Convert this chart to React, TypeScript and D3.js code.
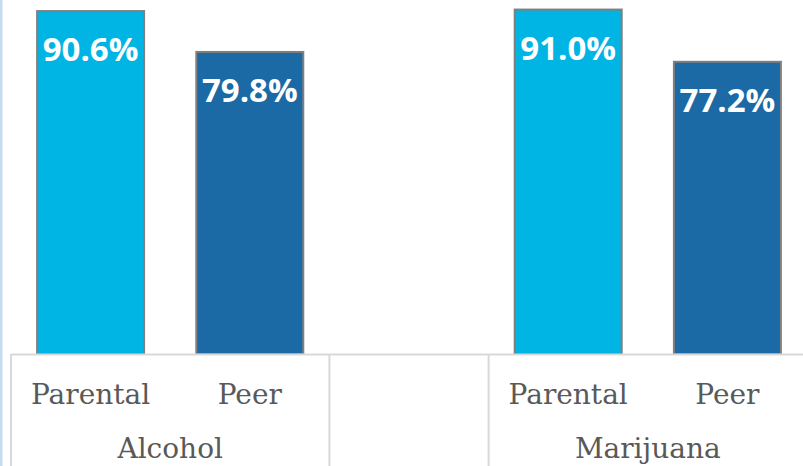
import * as d3 from 'd3';

// chart data
const groups = ['Alcohol', '', 'Marijuana'];
const kinds = ['Parental', 'Peer'];
const alcoholValues = [90.6, 79.8];
const marijuanaValues = [91.0, 77.2];
const colors = ['#00b4e4', '#1b69a5'];

const width = 803;
const height = 466;
const baseY = 354;

export default function App() {
  // slots: two per real group, one for the blank gap
  const slots = ['Alcohol|Parental', 'Alcohol|Peer', 'gap', 'Marijuana|Parental', 'Marijuana|Peer'];
  const x = d3.scaleBand<string>().domain(slots).range([11, 807]).padding(0);
  const y = d3.scaleLinear().domain([0, 100]).range([baseY, -24.5]);
  const bw = x.bandwidth() * 0.672;

  const bars = [
    ...alcoholValues.map((v, i) => ({ key: `Alcohol|${kinds[i]}`, kind: kinds[i], v, i })),
    ...marijuanaValues.map((v, i) => ({ key: `Marijuana|${kinds[i]}`, kind: kinds[i], v, i })),
  ];

  // group spans for separators and group labels
  const spans = groups.map((g) => {
    const keys = g ? kinds.map((k) => `${g}|${k}`) : ['gap'];
    const x0 = x(keys[0]) as number;
    const x1 = (x(keys[keys.length - 1]) as number) + x.bandwidth();
    return { g, x0, x1 };
  });

  return (
    <svg
      width={width}
      height={height}
      style={{ position: 'absolute', left: 0, top: 0, background: '#fff' }}
    >
      <rect x={0} y={0} width={2.5} height={height} fill="#c6dbef" />
      {bars.map((b) => {
        const cx = (x(b.key) as number) + x.bandwidth() / 2;
        return (
          <g key={b.key}>
            <rect
              x={cx - bw / 2}
              y={y(b.v)}
              width={bw}
              height={baseY - y(b.v)}
              fill={colors[b.i]}
              stroke="#7f7f7f"
              strokeWidth={2}
            />
            <text
              x={cx}
              y={y(b.v) + 50}
              textAnchor="middle"
              fill="#fff"
              fontFamily="'Open Sans', sans-serif"
              fontWeight="bold"
              fontSize={33}
            >
              {d3.format('.1f')(b.v)}%
            </text>
          </g>
        );
      })}
      <line x1={11} x2={width} y1={baseY + 0.5} y2={baseY + 0.5} stroke="#d9d9d9" strokeWidth={2} />
      {spans.map((s) => (
        <line key={'sep' + s.x0} x1={s.x0} x2={s.x0} y1={baseY} y2={height} stroke="#d9d9d9" strokeWidth={2} />
      ))}
      {bars.map((b) => (
        <text
          key={'lbl' + b.key}
          x={(x(b.key) as number) + x.bandwidth() / 2}
          y={404}
          textAnchor="middle"
          fill="#595959"
          fontFamily="'DejaVu Serif', serif"
          fontSize={28}
        >
          {b.kind}
        </text>
      ))}
      {spans
        .filter((s) => s.g)
        .map((s) => (
          <text
            key={'grp' + s.g}
            x={(s.x0 + s.x1) / 2}
            y={458}
            textAnchor="middle"
            fill="#595959"
            fontFamily="'DejaVu Serif', serif"
            fontSize={28}
          >
            {s.g}
          </text>
        ))}
    </svg>
  );
}
